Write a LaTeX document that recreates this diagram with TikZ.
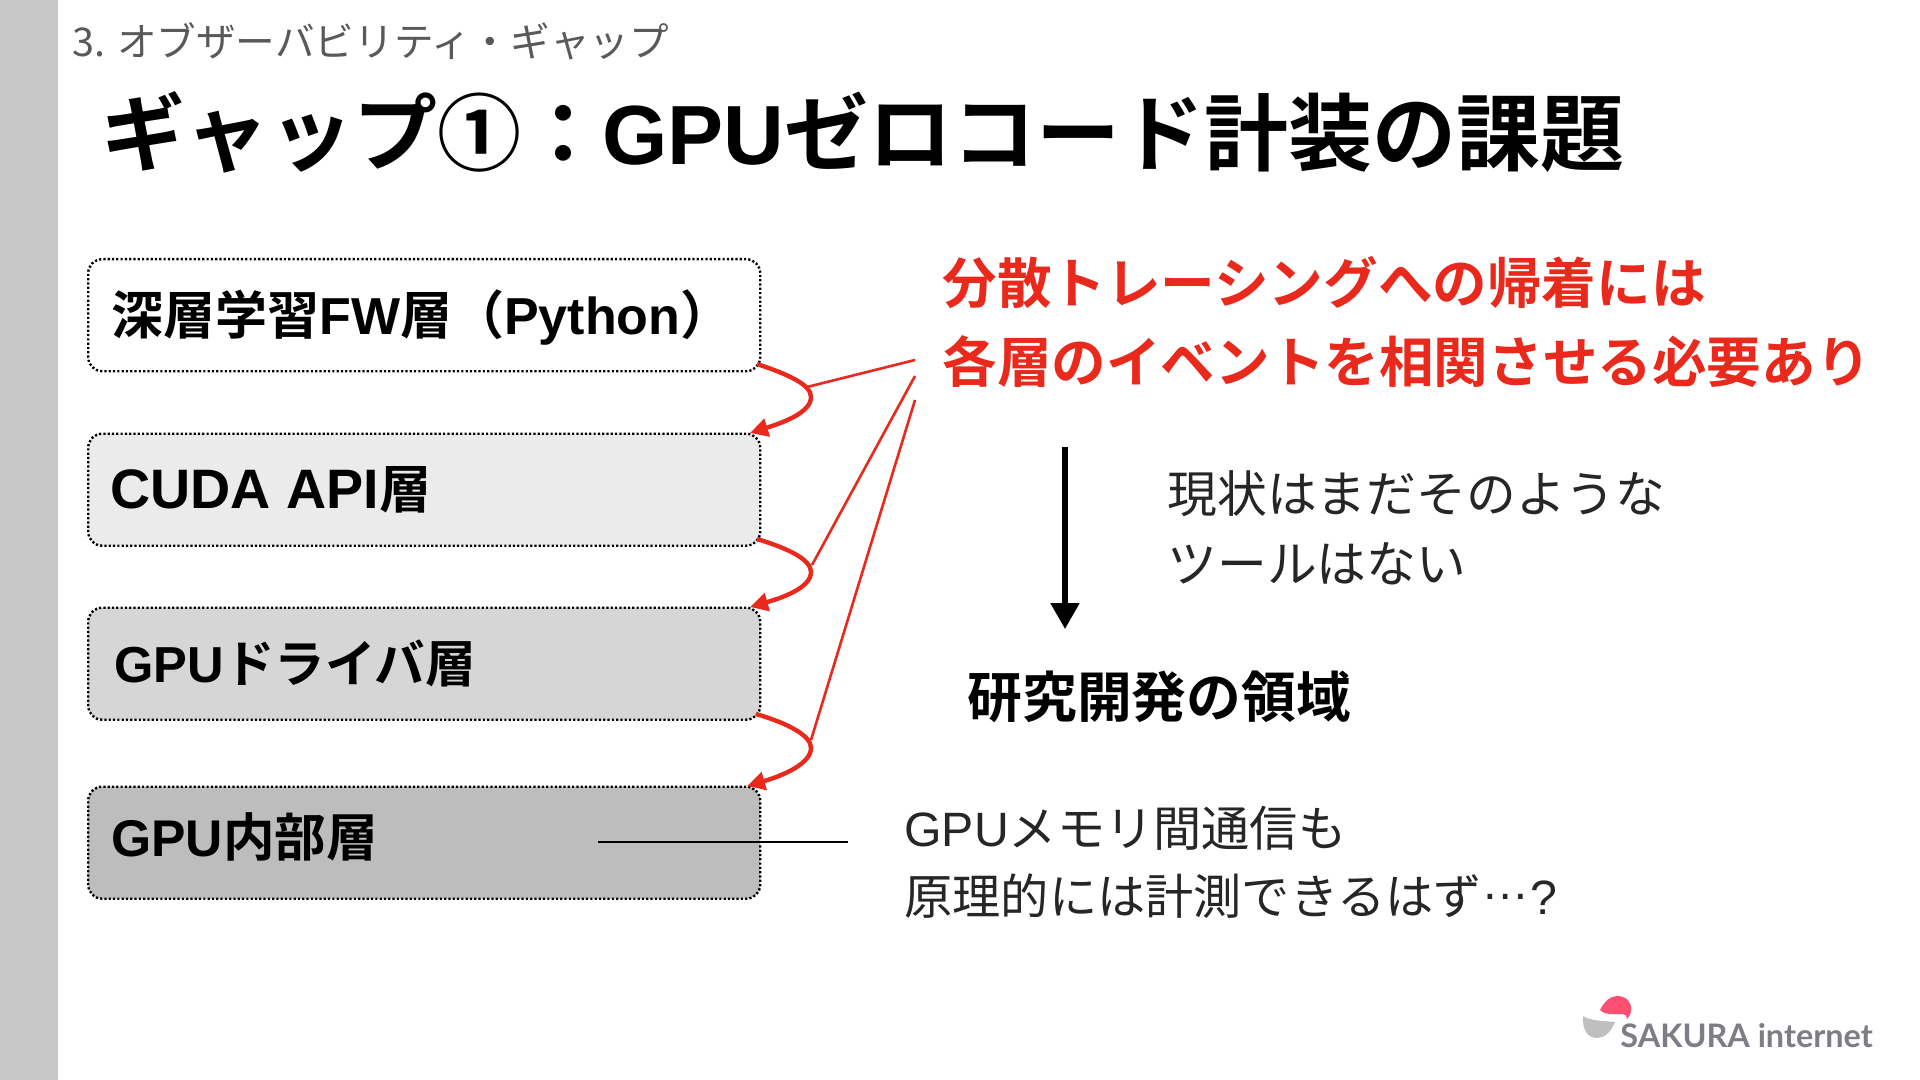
\documentclass[tikz,border=0pt]{standalone}
\usepackage{fontspec}
\usetikzlibrary{arrows.meta}
\setmainfont{Noto Sans CJK JP}[BoldFont={Noto Sans CJK JP Bold}]
\newfontfamily\logofont{Lato}
\newfontfamily\latn{Liberation Sans}
\newcommand{\lb}[1]{{\latn\bfseries #1}}
\newcommand{\lr}[1]{{\latn #1}}
\definecolor{redc}{HTML}{E8291C}
\definecolor{sidec}{HTML}{C8C8C8}
\definecolor{pinkc}{HTML}{FF4F72}
\definecolor{logog}{HTML}{7D7D85}
\tikzset{
  lay/.style={draw=black,line width=1.2pt,dash pattern=on 1.1pt off 1.05pt,rounded corners=7pt,anchor=north west,inner sep=0pt,minimum width=336pt,minimum height=56pt},
  txt/.style={anchor=base west,inner sep=0pt,text=black},
  lab/.style={txt,font=\bfseries\fontsize{26}{26}\selectfont},
  redt/.style={txt,text=redc,font=\bfseries\fontsize{27.3}{25}\selectfont},
  thin/.style={txt,text=black!85,font=\fontsize{24.9}{25}\selectfont},
  thing/.style={txt,text=black!85,font=\fontsize{24.1}{25}\selectfont},
  flow/.style={draw=redc,line width=2.2pt,-{Triangle[length=9pt,width=9pt]}},
  lead/.style={draw=redc,line width=1.3pt}
}
\begin{document}
\begin{tikzpicture}[x=0.5pt,y=-0.5pt]
\useasboundingbox (0,0) rectangle (1920,1080);
\fill[white] (0,0) rectangle (1920,1080);
\fill[sidec] (0,0) rectangle (57.5,1080);
\node[txt,text=black!65,font=\fontsize{19.8}{19}\selectfont] (hdr) at (72,57) {3. オブザーバビリティ・ギャップ};
\node[txt,font=\bfseries\fontsize{42}{42}\selectfont] (ttl) at (101,165) {ギャップ①：\hspace{-1.5pt}\lb{GPU}ゼロコード計装の課題};
\node[lay,fill=white] (b1) at (87,258) {};
\node[lay,fill=black!8] (b2) at (87,432.5) {};
\node[lay,fill=black!16] (b3) at (87,606.5) {};
\node[lay,fill=black!26] (b4) at (87,785.5) {};
\node[lab] (l1) at (111,335) {深層学習\lb{FW}層（\lb{Python}）};
\node[lab] (l2) at (110,508) {{\fontsize{27.8}{28}\selectfont\lb{CUDA API}}層};
\node[lab,font=\bfseries\fontsize{25.3}{26}\selectfont] (l3) at (114,682) {\lb{GPU}ドライバ層};
\node[lab,font=\bfseries\fontsize{25.8}{26}\selectfont] (l4) at (111,856) {\lb{GPU}内部層};
\node[redt] (r1) at (942,304) {分散トレーシングへの帰着には};
\node[redt] (r2) at (942,382) {各層のイベントを相関させる必要あり};
\node[thin] (t1) at (1167,512) {現状はまだそのような};
\node[thin] (t2) at (1167,582) {ツールはない};
\node[txt,font=\bfseries\fontsize{27.4}{27}\selectfont] (res) at (967,717) {研究開発の領域};
\node[thing] (g1) at (904,846) {\lr{GPU}メモリ間通信も};
\node[thing] (g2) at (904,914) {原理的には計測できるはず\raisebox{0.3em}{\lr{…}}\lr{?}};
\coordinate (a1s) at (757,364); \coordinate (a1e) at (750,433);
\coordinate (a2s) at (757,539); \coordinate (a2e) at (750,607);
\coordinate (a3s) at (756,714); \coordinate (a3e) at (747,786);
\coordinate (j1) at (807,387); \coordinate (j2) at (812,565); \coordinate (j3) at (811,740);
\coordinate (f1) at (915,360); \coordinate (f2) at (915,376); \coordinate (f3) at (915,400);
\draw[flow] (a1s) .. controls (790,375) and (811,385) .. (811,397) .. controls (811,412) and (785,422) .. (a1e);
\draw[flow] (a2s) .. controls (790,549) and (811,560) .. (811,572) .. controls (811,587) and (785,597) .. (a2e);
\draw[flow] (a3s) .. controls (790,724) and (811,736) .. (811,748) .. controls (811,763) and (785,775) .. (a3e);
\draw[lead] (f1) -- (j1);
\draw[lead] (f2) -- (j2);
\draw[lead] (f3) -- (j3);
\coordinate (d1) at (1065,447); \coordinate (d2) at (1065,629);
\draw[draw=black,line width=2.6pt,-{Triangle[length=13pt,width=14pt]}] (d1) -- (d2);
\coordinate (h1) at (598,842); \coordinate (h2) at (848,842);
\draw[black,line width=0.8pt] (h1) -- (h2);
\fill[black!25] (1583,1016) .. controls (1590,1021) and (1605,1021) .. (1615,1022) .. controls (1610,1034) and (1603,1038) .. (1597,1038) .. controls (1588,1038) and (1582,1030) .. (1583,1016) -- cycle;
\fill[pinkc] (1600,1010) .. controls (1604,1002) and (1610,996) .. (1617,996) .. controls (1626,996) and (1632,1002) .. (1631,1010) .. controls (1631,1014) and (1629,1017) .. (1627,1019) .. controls (1627,1016) and (1626,1015) .. (1622,1014) .. controls (1613,1014) and (1604,1015) .. (1600,1010) -- cycle;
\node[txt,text=logog,font=\logofont\bfseries\fontsize{16.2}{15}\selectfont] (logo) at (1620,1047) {SAKURA internet};
\end{tikzpicture}
\end{document}
